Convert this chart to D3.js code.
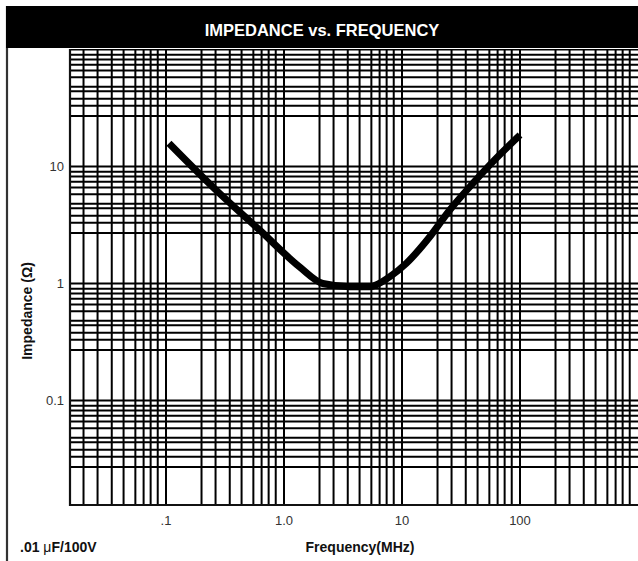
<!DOCTYPE html>
<html>
<head>
<meta charset="utf-8">
<script src="https://cdn.jsdelivr.net/npm/d3@7"></script>
<style>
  body { margin: 0; background: #fff; }
  text { font-family: "Liberation Sans", Arial, Helvetica, sans-serif; }
</style>
</head>
<body>
<div id="graph"></div>
<script>
// curve (MHz, ohms)
let frecuencia = [0.106, 0.265, 0.62, 1.35, 2.13, 3.6, 5.3, 7.85, 10.9, 17.2, 25.4, 40, 59, 100];
let impedancia = [15.8, 6.3, 2.87, 1.39, 1.0, 0.94, 0.94, 1.14, 1.49, 2.51, 4.25, 7.2, 11.0, 18.6];

// tick labels
let xTicks = [0.1, 1, 10, 100];
let xTickLabels = [".1", "1.0", "10", "100"];
let yTicks = [10, 1, 0.1];
let yTickLabels = ["10", "1", "0.1"];

// grid lines: decades times the factors, as drawn on the original sheet
let xDecadas = [0.01, 0.1, 1, 10, 100];
let xFactores = [1, 2, 2.63, 3.47, 4.37, 5.5, 6.46, 7.41, 8.51];
let yDecadas = [100, 10, 1, 0.1];
let yFactores = [1, 0.9, 0.82, 0.74, 0.66, 0.58, 0.48, 0.44, 0.38, 0.33, 0.27];

let datos = frecuencia.map((f, i) => ({ f: f, z: impedancia[i] }));

var svgWidth = 638;
var svgHeight = 561;

var plot = { left: 70, right: 638, top: 49, bottom: 505 };

var svg = d3.select("#graph")
  .append("svg")
  .attr("width", svgWidth)
  .attr("height", svgHeight);

// scales
var xLogScale = d3.scaleLog()
  .domain([0.1, 100])
  .range([166, 520]);

var yLogScale = d3.scaleLog()
  .domain([100, 0.1])
  .range([49.5, 400.5]);

// outer frame line on the left
svg.append("line")
  .attr("x1", 7).attr("x2", 7)
  .attr("y1", 6).attr("y2", svgHeight)
  .attr("stroke", "#333")
  .attr("stroke-width", 2.2);

// title bar
svg.append("rect")
  .attr("x", 6).attr("y", 6)
  .attr("width", svgWidth - 6).attr("height", 42)
  .attr("fill", "#000");

svg.append("text")
  .attr("x", 322).attr("y", 36)
  .attr("text-anchor", "middle")
  .attr("fill", "#fff")
  .attr("font-weight", "bold")
  .attr("font-size", 16.5)
  .text("IMPEDANCE vs. FREQUENCY");

svg.append("clipPath").attr("id", "plotClip")
  .append("rect")
  .attr("x", plot.left).attr("y", plot.top)
  .attr("width", plot.right - plot.left).attr("height", plot.bottom - plot.top);

var grid = svg.append("g").attr("clip-path", "url(#plotClip)");

var xLines = [];
xDecadas.forEach(d => xFactores.forEach(k => xLines.push(d * k)));
xLines = xLines.filter(v => xLogScale(v) >= plot.left && xLogScale(v) <= plot.right + 2);

var yLines = [];
yDecadas.forEach(d => yFactores.forEach(k => yLines.push(d * k)));
yLines = yLines.filter(v => yLogScale(v) >= plot.top - 1 && yLogScale(v) <= plot.bottom);

grid.selectAll(".vline")
  .data(xLines)
  .enter().append("line")
  .attr("x1", d => xLogScale(d)).attr("x2", d => xLogScale(d))
  .attr("y1", plot.top).attr("y2", plot.bottom)
  .attr("stroke", "#000")
  .attr("stroke-width", 2);

grid.selectAll(".hline")
  .data(yLines)
  .enter().append("line")
  .attr("x1", plot.left).attr("x2", plot.right)
  .attr("y1", d => yLogScale(d)).attr("y2", d => yLogScale(d))
  .attr("stroke", "#000")
  .attr("stroke-width", 2);

// plot border left and bottom
svg.append("path")
  .attr("d", `M${plot.left},${plot.top}V${plot.bottom}H${plot.right}`)
  .attr("fill", "none")
  .attr("stroke", "#111")
  .attr("stroke-width", 2.2);

// impedance curve
var drawLine = d3.line()
  .x(d => xLogScale(d.f))
  .y(d => yLogScale(d.z))
  .curve(d3.curveMonotoneX);

svg.append("path")
  .attr("d", drawLine(datos))
  .attr("fill", "none")
  .attr("stroke", "#000")
  .attr("stroke-width", 7)
  .attr("stroke-linejoin", "round");

// tick labels
svg.selectAll(".xlabel")
  .data(xTicks)
  .enter().append("text")
  .attr("x", d => xLogScale(d))
  .attr("y", 525)
  .attr("text-anchor", "middle")
  .attr("font-size", 13)
  .attr("fill", "#333")
  .text((d, i) => xTickLabels[i]);

svg.selectAll(".ylabel")
  .data(yTicks)
  .enter().append("text")
  .attr("x", 64)
  .attr("y", d => yLogScale(d) + 4)
  .attr("text-anchor", "end")
  .attr("font-size", 13)
  .attr("fill", "#333")
  .text((d, i) => yTickLabels[i]);

// axis titles
svg.append("text")
  .attr("x", 360).attr("y", 552)
  .attr("text-anchor", "middle")
  .attr("font-weight", "bold")
  .attr("font-size", 14)
  .attr("fill", "#111")
  .text("Frequency(MHz)");

svg.append("text")
  .attr("transform", "translate(32, 311) rotate(-90)")
  .attr("text-anchor", "middle")
  .attr("font-weight", "bold")
  .attr("font-size", 14)
  .attr("fill", "#111")
  .text("Impedance (Ω)");

var nota = svg.append("text")
  .attr("x", 20).attr("y", 552)
  .attr("font-weight", "bold")
  .attr("font-size", 14)
  .attr("fill", "#111");
nota.append("tspan").text(".01 ");
nota.append("tspan").attr("font-weight", "normal").text("μ");
nota.append("tspan").text("F/100V");
</script>
</body>
</html>
